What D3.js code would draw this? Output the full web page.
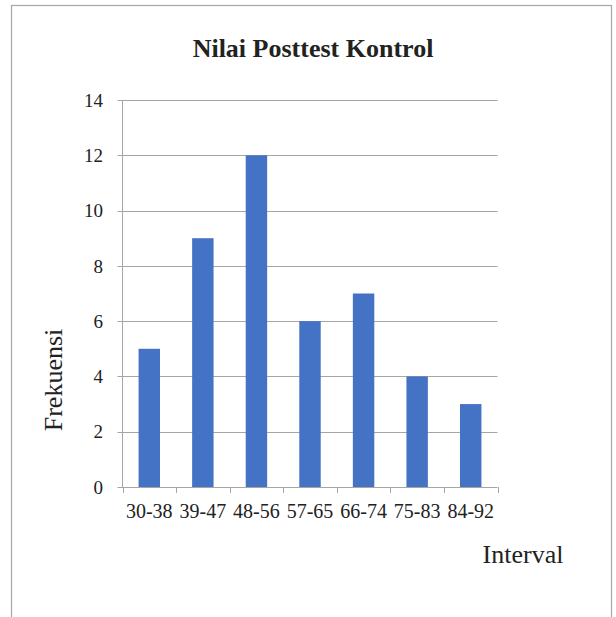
<!DOCTYPE html>
<html><head><meta charset="utf-8">
<script src="https://cdn.jsdelivr.net/npm/d3@7"></script>
<style>body{margin:0;background:#fff}svg{display:block}</style>
</head><body>
<svg id="c" width="616" height="617"></svg>
<script>
const categories = ["30-38","39-47","48-56","57-65","66-74","75-83","84-92"];
const values = [5, 9, 12, 6, 7, 4, 3];
const yTicks = [0, 2, 4, 6, 8, 10, 12, 14];
const title = "Nilai Posttest Kontrol";
const yTitle = "Frekuensi";
const xTitle = "Interval";

const svg = d3.select("#c");
const font = "'Liberation Serif','Times New Roman',serif";

svg.append("rect").attr("x", 11.5).attr("y", 5.5).attr("width", 600).attr("height", 640)
  .attr("fill", "#fff").attr("stroke", "#a6a6a6").attr("stroke-width", 1.2);

const L = 122.5, R = 497.5, T = 100, B = 487;
const x = d3.scaleBand().domain(categories).range([L, R]).paddingInner(0.6).paddingOuter(0.3);
const y = d3.scaleLinear().domain([0, 14]).range([B, T]);

// gridlines
svg.append("g").selectAll("line").data(yTicks).join("line")
  .attr("x1", L - 5).attr("x2", R).attr("y1", d => Math.round(y(d)) + 0.5).attr("y2", d => Math.round(y(d)) + 0.5)
  .attr("stroke", "#a6a6a6").attr("stroke-width", 1);

// bars
svg.append("g").selectAll("rect").data(values).join("rect")
  .attr("x", (d, i) => x(categories[i])).attr("width", x.bandwidth())
  .attr("y", d => y(d)).attr("height", d => B - y(d))
  .attr("fill", "#4472c4");

// y axis line
svg.append("line").attr("x1", L).attr("x2", L).attr("y1", T).attr("y2", B)
  .attr("stroke", "#a6a6a6");

// y tick labels
svg.append("g").selectAll("text").data(yTicks).join("text")
  .attr("x", 103).attr("y", d => y(d)).attr("dy", "0.35em")
  .attr("text-anchor", "end").attr("font-family", font).attr("font-size", 19).attr("fill", "#222")
  .text(d => d);

// x axis ticks
const xt = d3.range(categories.length + 1).map(i => L + i * (R - L) / categories.length);
svg.append("g").selectAll("line").data(xt).join("line")
  .attr("x1", d => Math.round(d) + 0.5).attr("x2", d => Math.round(d) + 0.5)
  .attr("y1", B).attr("y2", B + 6).attr("stroke", "#a6a6a6");

// x labels
svg.append("g").selectAll("text").data(categories).join("text")
  .attr("x", d => x(d) + x.bandwidth() / 2).attr("y", 518)
  .attr("text-anchor", "middle").attr("font-family", font).attr("font-size", 20).attr("fill", "#222")
  .text(d => d);

// title
svg.append("text").attr("x", 313).attr("y", 57).attr("text-anchor", "middle")
  .attr("font-family", font).attr("font-size", 26).attr("font-weight", "bold").attr("fill", "#222")
  .text(title);

// y title
svg.append("text").attr("transform", "translate(62,380) rotate(-90)").attr("text-anchor", "middle")
  .attr("font-family", font).attr("font-size", 26).attr("fill", "#222").text(yTitle);

// x title
svg.append("text").attr("x", 523).attr("y", 563).attr("text-anchor", "middle")
  .attr("font-family", font).attr("font-size", 26).attr("fill", "#222").text(xTitle);
</script>
</body></html>
